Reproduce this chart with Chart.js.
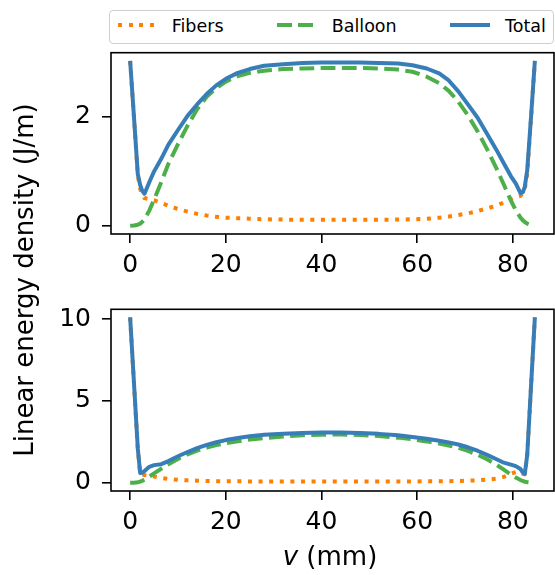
<!DOCTYPE html>
<html>
<head>
<meta charset="utf-8">
<script src="https://cdn.jsdelivr.net/npm/chart.js@4.4.1/dist/chart.umd.min.js"></script>
<style>
  body { margin:0; width:555px; height:575px; overflow:hidden; background:#fff; position:relative; font-family:"DejaVu Sans"; }
  canvas { position:absolute; left:0; }
  #legend { position:absolute; left:109px; top:10px; width:443px; height:32px; border:1.5px solid #cfcfcf; border-radius:4px; background:#fff; }
  .lab { position:absolute; font-size:17.5px; line-height:20px; color:#000; white-space:nowrap; }
  .smp { position:absolute; height:4px; }
  #ylab { position:absolute; left:-176px; top:265px; width:400px; height:30px; line-height:30px; text-align:center; font-size:26px; transform:rotate(-90deg); white-space:nowrap; }
  #xlab { position:absolute; left:130px; top:541px; width:400px; height:30px; line-height:30px; text-align:center; font-size:26px; white-space:nowrap; }
</style>
</head>
<body>
<canvas id="top" width="560" height="280" style="top:0"></canvas>
<canvas id="bot" width="560" height="295" style="top:280px"></canvas>
<div id="legend"></div>
<div id="ylab">Linear energy density (J/m)</div>
<div id="xlab"><i>v</i> (mm)</div>
<script>
// positions along the balloon (mm)
var vPos = [0, 0.8, 1.6, 2.1, 2.5, 3, 4, 5, 6.5, 8, 10, 12, 14, 16, 18, 20, 22.5, 25, 28, 32, 36, 40, 44, 48, 52, 56, 59, 62, 64.6, 66.6, 68.6, 70.6, 72.6, 74.6, 76.6, 78.1, 79.6, 80.6, 81.6, 82.1, 82.5, 83, 83.8, 84.6];

// upper panel
var topFibers = [3.03, 2.0, 0.93, 0.68, 0.56, 0.51, 0.49, 0.47, 0.42, 0.37, 0.31, 0.26, 0.22, 0.19, 0.165, 0.15, 0.14, 0.13, 0.12, 0.115, 0.11, 0.11, 0.11, 0.11, 0.11, 0.115, 0.12, 0.13, 0.15, 0.17, 0.2, 0.23, 0.27, 0.32, 0.37, 0.43, 0.49, 0.53, 0.55, 0.6, 0.68, 0.95, 1.97, 3.03];
var topBalloon = [0, 0.005, 0.02, 0.04, 0.07, 0.12, 0.28, 0.48, 0.8, 1.14, 1.5, 1.84, 2.14, 2.37, 2.53, 2.65, 2.75, 2.81, 2.85, 2.88, 2.89, 2.9, 2.9, 2.9, 2.89, 2.87, 2.83, 2.74, 2.62, 2.48, 2.28, 2.03, 1.74, 1.41, 1.05, 0.76, 0.46, 0.29, 0.15, 0.1, 0.07, 0.04, 0.01, 0];
var topTotal = [3.03, 2.0, 0.95, 0.75, 0.65, 0.59, 0.8, 1.0, 1.23, 1.49, 1.76, 2.02, 2.23, 2.42, 2.58, 2.7, 2.81, 2.88, 2.94, 2.97, 2.99, 3.0, 3.0, 3.0, 2.99, 2.98, 2.95, 2.89, 2.8, 2.67, 2.47, 2.23, 1.99, 1.69, 1.39, 1.15, 0.91, 0.78, 0.6, 0.62, 0.72, 1.02, 2.0, 3.03];

// lower panel
var botFibers = [10.1, 6.1, 2.07, 0.55, 0.52, 0.48, 0.43, 0.38, 0.3, 0.24, 0.18, 0.15, 0.13, 0.11, 0.1, 0.09, 0.09, 0.085, 0.08, 0.08, 0.08, 0.08, 0.08, 0.08, 0.08, 0.08, 0.085, 0.09, 0.09, 0.1, 0.11, 0.13, 0.15, 0.19, 0.26, 0.36, 0.55, 0.66, 0.62, 0.55, 0.52, 1.66, 5.9, 10.1];
var botBalloon = [0, 0.005, 0.03, 0.07, 0.12, 0.19, 0.38, 0.58, 0.86, 1.13, 1.45, 1.74, 1.97, 2.15, 2.3, 2.42, 2.54, 2.64, 2.73, 2.83, 2.9, 2.94, 2.95, 2.92, 2.86, 2.76, 2.66, 2.53, 2.4, 2.28, 2.14, 1.95, 1.72, 1.44, 1.1, 0.8, 0.5, 0.32, 0.17, 0.11, 0.07, 0.04, 0.01, 0];
var botTotal = [10.1, 6.1, 2.1, 0.6, 0.62, 0.72, 0.98, 1.08, 1.14, 1.33, 1.62, 1.88, 2.12, 2.32, 2.48, 2.61, 2.74, 2.84, 2.93, 3.0, 3.04, 3.07, 3.07, 3.05, 2.99, 2.9, 2.8, 2.69, 2.57, 2.47, 2.34, 2.17, 1.96, 1.71, 1.44, 1.23, 1.11, 1.02, 0.84, 0.62, 0.55, 1.7, 5.9, 10.1];

var xTicks = [0, 20, 40, 60, 80];
var topYTicks = [0, 2];
var botYTicks = [0, 5, 10];
var seriesNames = ["Fibers", "Balloon", "Total"];

var ORANGE = '#ff7f00', GREEN = '#4daf4a', BLUE = '#377eb8';
var LW = 4;

function pts(arr){
  return vPos.map(function(v, i){ return {x: v, y: arr[i]}; });
}

// full black box around the plot area, like matplotlib spines
var boxPlugin = {
  id: 'box',
  afterDraw: function(chart){
    var a = chart.chartArea, ctx = chart.ctx;
    ctx.save();
    ctx.strokeStyle = '#000';
    ctx.lineWidth = 1.6;
    ctx.strokeRect(a.left, a.top, a.right - a.left, a.bottom - a.top);
    ctx.restore();
  }
};

function makeChart(id, fib, bal, tot, ymin, ymax, yTicks, padTop, padBottom){
  var ctx = document.getElementById(id).getContext('2d');
  return new Chart(ctx, {
    type: 'line',
    data: {
      datasets: [
        { label: seriesNames[0], data: pts(fib), borderColor: ORANGE, borderWidth: LW, borderDash: [LW, LW * 1.65], order: 2 },
        { label: seriesNames[1], data: pts(bal), borderColor: GREEN, borderWidth: LW, borderDash: [LW * 3.7, LW * 1.6], order: 1 },
        { label: seriesNames[2], data: pts(tot), borderColor: BLUE, borderWidth: LW, order: 0 }
      ]
    },
    options: {
      responsive: false,
      animation: false,
      events: [],
      layout: { padding: { top: padTop, bottom: padBottom, left: 0, right: 6 } },
      elements: {
        point: { radius: 0 },
        line: { tension: 0, fill: false, borderJoinStyle: 'round' }
      },
      plugins: { legend: { display: false }, tooltip: { enabled: false } },
      scales: {
        x: {
          type: 'linear', min: -4, max: 88.6,
          afterBuildTicks: function(s){ s.ticks = xTicks.map(function(v){ return {value: v}; }); },
          afterFit: function(s){ s.height = 40; },
          grid: { drawOnChartArea: false, drawTicks: true, tickLength: 9, color: '#000', lineWidth: 1.6 },
          border: { display: false },
          ticks: { color: '#000', padding: 7, maxRotation: 0, font: { family: 'DejaVu Sans', size: 25 } }
        },
        y: {
          type: 'linear', min: ymin, max: ymax,
          afterBuildTicks: function(s){ s.ticks = yTicks.map(function(v){ return {value: v}; }); },
          afterFit: function(s){ s.width = 111; },
          grid: { drawOnChartArea: false, drawTicks: true, tickLength: 9, color: '#000', lineWidth: 1.6 },
          border: { display: false },
          ticks: { color: '#000', padding: 11, font: { family: 'DejaVu Sans', size: 25 } }
        }
      }
    },
    plugins: [boxPlugin]
  });
}

makeChart('top', topFibers, topBalloon, topTotal, -0.15, 3.18, topYTicks, 52.7, 6);
makeChart('bot', botFibers, botBalloon, botTotal, -0.5, 10.6, botYTicks, 29.3, 44);

// legend, laid out like the matplotlib expanded legend
var leg = document.getElementById('legend');
var samples = [
  { left: 118 - 110, width: 37, bg: 'repeating-linear-gradient(to right,' + ORANGE + ' 0 4px, transparent 4px 10.6px)', text: 171.7 - 110 },
  { left: 277 - 110, width: 37, bg: 'repeating-linear-gradient(to right,' + GREEN + ' 0 14.8px, transparent 14.8px 21.2px)', text: 331.7 - 110 },
  { left: 450 - 110, width: 40, bg: BLUE, text: 505 - 110 }
];
samples.forEach(function(s, i){
  var d = document.createElement('div');
  d.className = 'smp';
  d.style.left = s.left + 'px';
  d.style.top = (25.3 - 2 - 11.5) + 'px';
  d.style.width = s.width + 'px';
  d.style.background = s.bg;
  leg.appendChild(d);
  var t = document.createElement('div');
  t.className = 'lab';
  t.style.left = s.text + 'px';
  t.style.top = (16.7 - 11.5) + 'px';
  t.textContent = seriesNames[i];
  leg.appendChild(t);
});
</script>
</body>
</html>
